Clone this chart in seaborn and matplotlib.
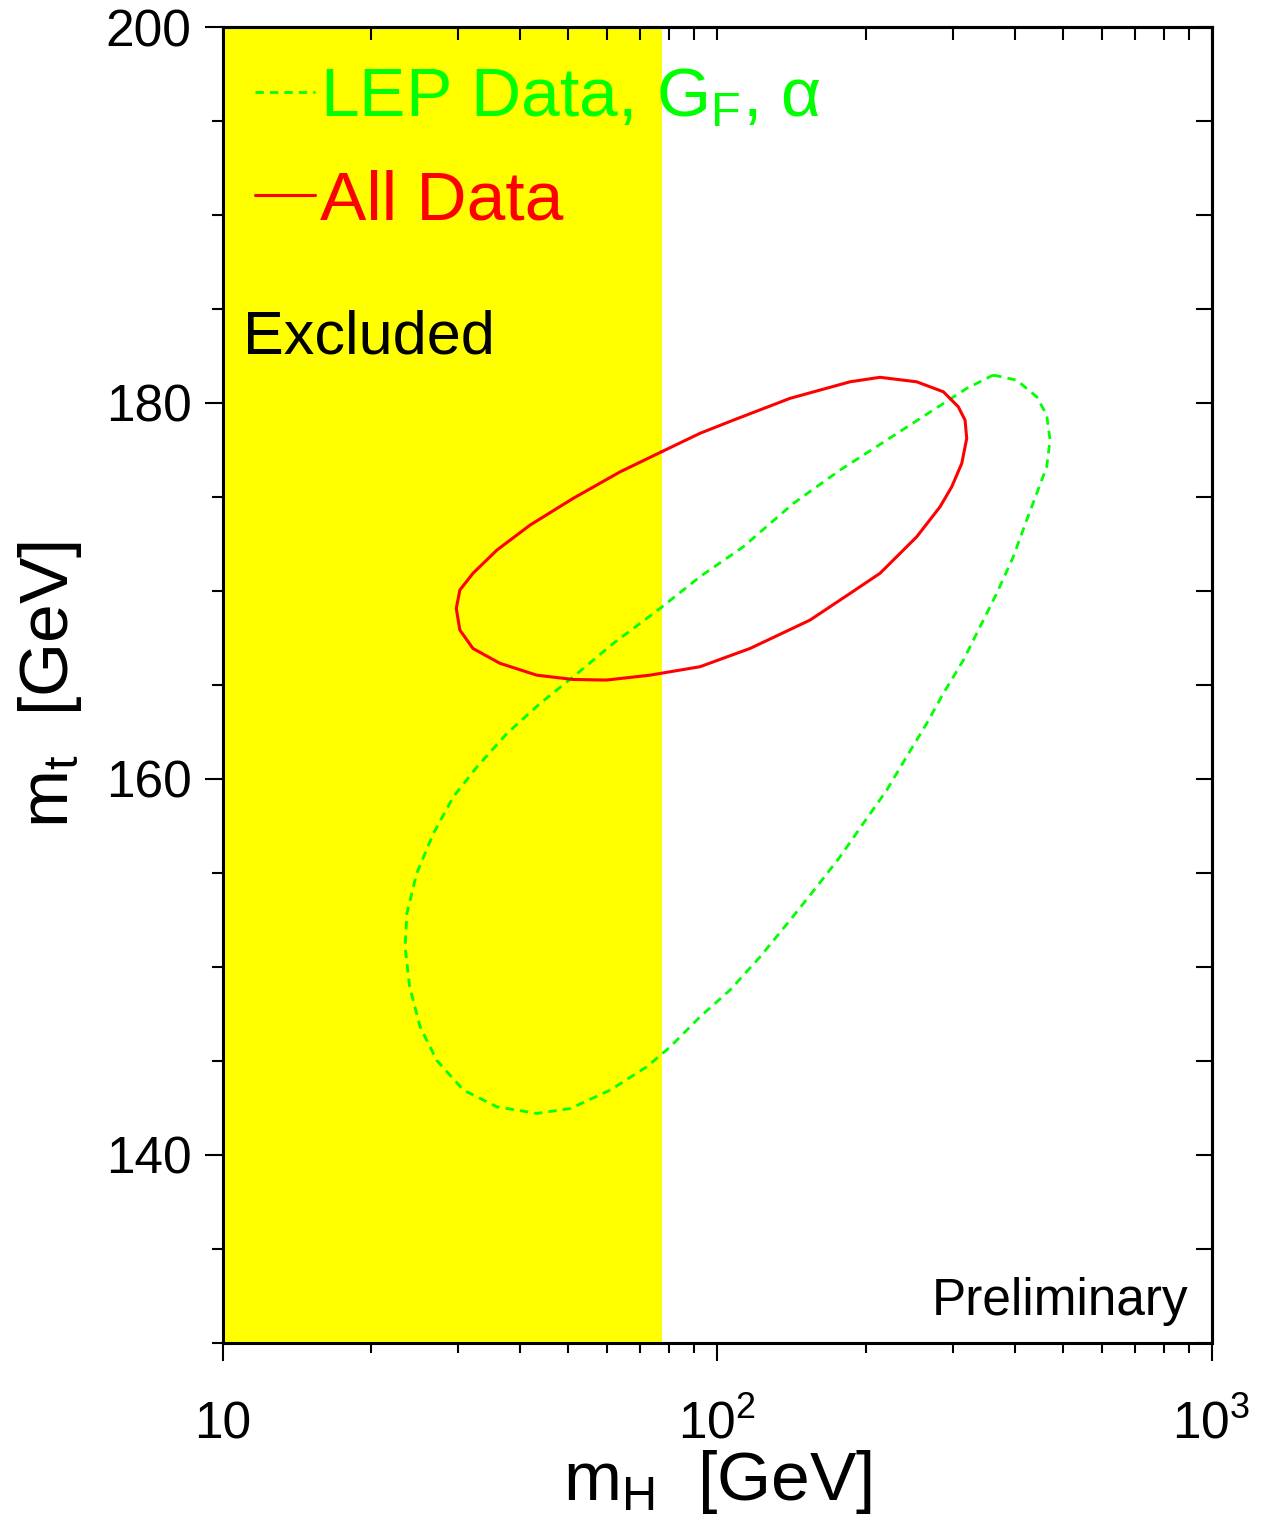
import matplotlib
matplotlib.use("Agg")
import matplotlib.pyplot as plt
from matplotlib.ticker import MultipleLocator, NullFormatter, LogLocator
import seaborn as sns

# ---------------- data ----------------
# "All Data" contour (red, solid): m_H [GeV], m_t [GeV]
mh_all = [77.3, 63.7, 51.2, 41.9, 35.9, 32.1, 30.2, 29.7, 30.2, 32.1,
          36.4, 43.2, 51.2, 59.8, 73.2, 92.4, 116.6, 154.2, 185.8, 213.6,
          253.4, 282.5, 298.3, 312.6, 319.9, 317.4, 307.6, 286.9, 253.4, 213.6,
          185.8, 140.5, 107.9, 92.4, 77.3]
mt_all = [177.40, 176.33, 174.92, 173.50, 172.17, 170.93, 170.04, 169.06, 167.91, 166.93,
          166.14, 165.51, 165.28, 165.25, 165.51, 165.96, 166.93, 168.44, 169.86, 170.93,
          172.87, 174.47, 175.53, 176.78, 178.11, 179.08, 179.79, 180.59, 181.12, 181.36,
          181.12, 180.24, 179.08, 178.38, 177.40]

# "LEP Data, G_F, alpha" contour (green, dashed)
mh_lep = [362.0, 403.6, 443.2, 464.2, 471.5, 464.2, 443.2, 422.9, 397.3, 367.8,
          340.3, 314.9, 286.9, 265.5, 241.8, 220.4, 197.6, 177.3, 159.1, 140.5,
          122.2, 106.2, 92.4, 80.4, 72.1, 60.8, 50.5, 43.2, 35.9, 30.7,
          27.1, 25.1, 23.9, 23.4, 23.6, 24.7, 26.7, 29.3, 32.7, 37.6,
          43.9, 51.2, 61.7, 76.7, 92.4, 113.0, 142.7, 177.3, 220.4, 273.8,
          319.9, 362.0]
mt_lep = [181.48, 181.21, 180.32, 179.35, 178.02, 176.60, 175.18, 173.76, 171.81, 169.86,
          168.08, 166.31, 164.54, 162.94, 161.17, 159.39, 157.62, 155.84, 154.25, 152.47,
          150.52, 148.75, 147.33, 145.73, 144.67, 143.43, 142.45, 142.19, 142.54, 143.43,
          145.02, 146.80, 148.93, 151.05, 152.83, 154.96, 157.09, 159.04, 160.63, 162.41,
          164.01, 165.42, 167.20, 169.06, 170.75, 172.34, 174.65, 176.42, 178.02, 179.62,
          180.77, 181.48]

excluded_limit = [10, 77.3]          # excluded m_H band
xlim = [10, 1000]
ylim = [130, 200]
xticks = [10, 100, 1000]
xtick_labels = ["10", r"$\mathregular{10^{2}}$", r"$\mathregular{10^{3}}$"]
yticks = [140, 160, 180, 200]
label_lep = r"LEP Data, G$_\mathregular{F}$, α"
label_all = "All Data"

# ---------------- style ----------------
sns.set_style("ticks")
plt.rcParams["font.family"] = ["Liberation Sans", "DejaVu Sans"]
plt.rcParams["mathtext.fontset"] = "custom"
plt.rcParams["mathtext.rm"] = "Liberation Sans"
plt.rcParams["mathtext.it"] = "Liberation Sans:italic"
plt.rcParams["mathtext.bf"] = "Liberation Sans:bold"
for key in ["text.color", "axes.labelcolor", "xtick.color", "ytick.color",
            "xtick.labelcolor", "ytick.labelcolor", "axes.edgecolor"]:
    plt.rcParams[key] = "black"

GREEN = "#00ff00"
RED = "#ff0000"
YELLOW = "#ffff00"

fig = plt.figure(figsize=(12.85, 15.2), dpi=100)
fig.patch.set_facecolor("white")
ax = fig.add_axes([222.5 / 1285, 1 - 1342.5 / 1520, 989 / 1285, 1315.5 / 1520])
ax.set_facecolor("white")

ax.axvspan(excluded_limit[0], excluded_limit[1], color=YELLOW, lw=0, zorder=0)

sns.lineplot(x=mh_lep, y=mt_lep, sort=False, estimator=None, color=GREEN,
             lw=2.0, linestyle=(0, (3.0, 2.2)), label=label_lep, ax=ax, zorder=3)
sns.lineplot(x=mh_all, y=mt_all, sort=False, estimator=None, color=RED,
             lw=2.2, label=label_all, ax=ax, zorder=4)

ax.set_xscale("log")
ax.set_xlim(*xlim)
ax.set_ylim(*ylim)

# spines
for sp in ax.spines.values():
    sp.set_linewidth(2.2)
    sp.set_color("black")
    sp.set_zorder(10)

# left / bottom ticks (outward)
ax.set_xticks(xticks)
ax.set_xticklabels(xtick_labels)
ax.xaxis.set_minor_locator(LogLocator(base=10, subs=range(2, 10)))
ax.xaxis.set_minor_formatter(NullFormatter())
ax.yaxis.set_major_locator(MultipleLocator(20))
ax.yaxis.set_minor_locator(MultipleLocator(5))
ax.set_yticks(yticks)
ax.tick_params(axis="x", which="major", direction="out", length=13, width=1.5,
               pad=56, labelsize=37, top=False, colors="black")
ax.tick_params(axis="x", which="minor", direction="out", length=7, width=1.5,
               top=False, colors="black")
ax.tick_params(axis="y", which="major", direction="out", length=13, width=1.5,
               pad=9.4, labelsize=37, right=False, colors="black")
ax.tick_params(axis="y", which="minor", direction="out", length=8, width=1.5,
               right=False, colors="black")
for lab in ax.get_xticklabels():
    lab.set_verticalalignment("baseline")

# top / right ticks (inward)
secx = ax.secondary_xaxis("top")
secx.tick_params(axis="x", which="both", direction="in", length=9.5, width=1.5, colors="black")
secx.xaxis.set_major_formatter(NullFormatter())
secx.xaxis.set_minor_formatter(NullFormatter())
secx.spines["top"].set_linewidth(2.2)
secy = ax.secondary_yaxis("right")
secy.yaxis.set_major_locator(MultipleLocator(5))
secy.tick_params(axis="y", which="both", direction="in", length=11.5, width=1.5, colors="black")
secy.yaxis.set_major_formatter(NullFormatter())
secy.spines["right"].set_linewidth(2.2)

# axis labels
ax.set_xlabel(r"m$_\mathregular{H}$  [GeV]", fontsize=50, color="black")
ax.xaxis.set_label_coords(0.5, -0.080)
ax.set_ylabel(r"m$_\mathregular{t}$  [GeV]", fontsize=50, color="black")
ax.yaxis.set_label_coords(-0.140, 0.5)

# legend
ax.legend(loc="upper left", bbox_to_anchor=(0.033, 0.9705), frameon=False,
          fontsize=50, labelcolor="linecolor", handlelength=0.86,
          handletextpad=0.08, borderpad=0, borderaxespad=0, labelspacing=0.57)

# annotations
ax.text(0.0207, 0.752, "Excluded", transform=ax.transAxes, fontsize=44,
        ha="left", va="baseline", color="black", zorder=6)
ax.text(0.9766, 0.0209, "Preliminary", transform=ax.transAxes, fontsize=37,
        ha="right", va="baseline", color="black", zorder=6)

fig.savefig("out.png", dpi=100, facecolor="white")
